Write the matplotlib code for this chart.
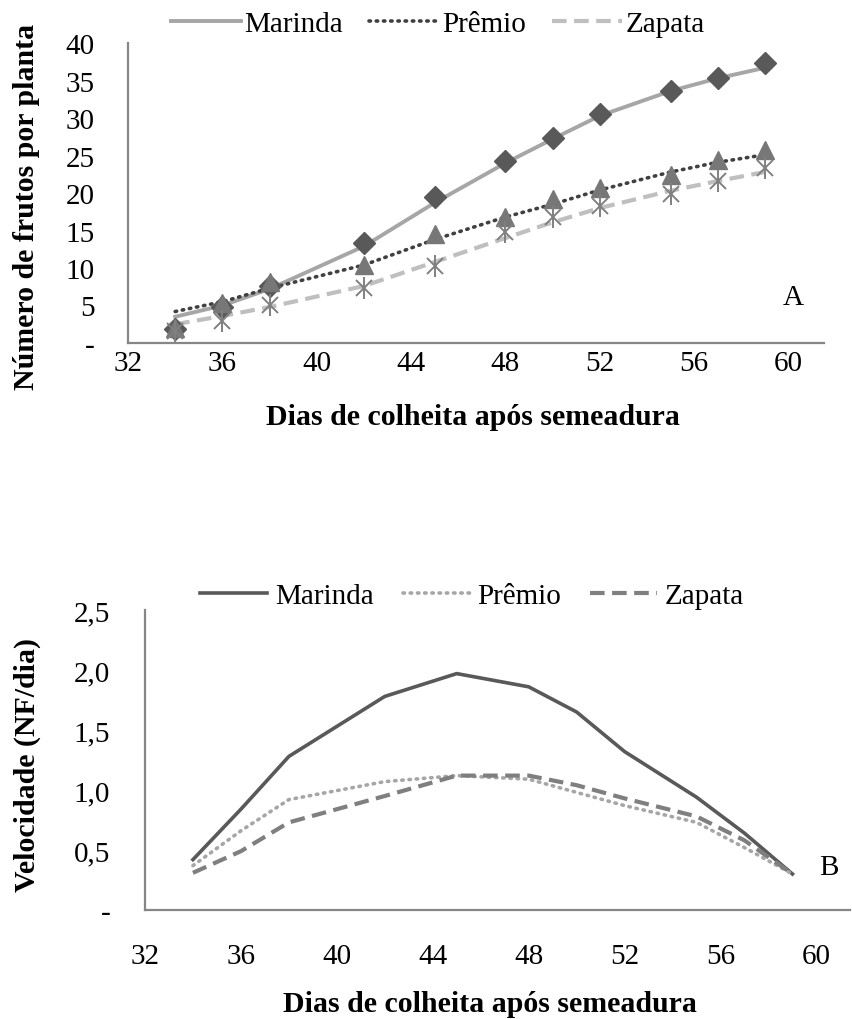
import matplotlib
matplotlib.use("Agg")
import matplotlib.pyplot as plt
from matplotlib.ticker import FuncFormatter

plt.rcParams['font.family'] = ['Liberation Serif', 'DejaVu Serif']

# ---- data ----
dias = [34, 36, 38, 42, 45, 48, 50, 52, 55, 57, 59]
series = ['Marinda', 'Prêmio', 'Zapata']

# Chart A: fitted curves
marinda_fit = [3.5, 5.0, 7.2, 12.9, 18.7, 24.0, 27.2, 30.3, 33.6, 35.3, 36.7]
premio_fit = [4.2, 5.5, 7.3, 10.4, 13.8, 16.8, 18.5, 20.4, 22.8, 24.1, 25.1]
zapata_fit = [2.5, 3.6, 4.8, 7.6, 10.8, 14.0, 16.1, 18.0, 20.3, 21.6, 22.8]
# Chart A: observed points
marinda_obs = [1.9, 4.8, 7.6, 13.3, 19.5, 24.3, 27.4, 30.6, 33.6, 35.4, 37.3]
premio_obs = [2.0, 5.3, 8.2, 10.4, 14.6, 16.8, 19.2, 20.7, 22.4, 24.4, 25.8]
zapata_obs = [1.6, 3.0, 5.1, 7.4, 10.3, 14.8, 16.8, 18.3, 19.9, 21.6, 23.4]

# Chart B: velocity (NF/dia)
marinda_vel = [0.42, 0.84, 1.28, 1.78, 1.97, 1.86, 1.65, 1.32, 0.94, 0.64, 0.30]
premio_vel = [0.37, 0.66, 0.92, 1.07, 1.12, 1.09, 0.98, 0.87, 0.73, 0.52, 0.30]
zapata_vel = [0.31, 0.49, 0.73, 0.95, 1.12, 1.12, 1.04, 0.93, 0.78, 0.58, 0.30]

x_ticks = [32, 36, 40, 44, 48, 52, 56, 60]
yA_ticks = [0, 5, 10, 15, 20, 25, 30, 35, 40]
yB_ticks = [0, 0.5, 1.0, 1.5, 2.0, 2.5]

W, H = 853, 1020
fig = plt.figure(figsize=(W / 100, H / 100), dpi=100)

spine_c = '#868686'
tick_fs = 21
leg_fs = 21
lab_fs = 21.5


def style_axes(ax, ypad, xpad):
    for s in ['top', 'right']:
        ax.spines[s].set_visible(False)
    for s in ['left', 'bottom']:
        ax.spines[s].set_color(spine_c)
        ax.spines[s].set_linewidth(1.6)
    ax.tick_params(axis='both', length=0, labelsize=tick_fs, colors='black')
    ax.tick_params(axis='y', pad=ypad)
    ax.tick_params(axis='x', pad=xpad)


def fpos(x, y):
    return (x / W, 1 - y / H)


# ---- Chart A ----
axA = fig.add_axes([128 / W, 1 - 344 / H, 696 / W, 300 / H])
lm, = axA.plot(dias, marinda_fit, color='#A6A6A6', lw=2.8, ls='-', label=series[0])
lp, = axA.plot(dias, premio_fit, color='#404040', lw=2.6, ls=(0, (0.4, 1.6)),
               dash_capstyle='round', label=series[1])
lz, = axA.plot(dias, zapata_fit, color='#BFBFBF', lw=3.0, ls=(0, (3.5, 1.8)), label=series[2])
axA.plot(dias, marinda_obs, ls='none', marker='D', ms=11.5, color='#595959', mec='#595959')
axA.plot(dias, premio_obs, ls='none', marker='^', ms=13, color='#777777', mec='#777777')
axA.plot(dias, zapata_obs, ls='none', marker='x', ms=12, mew=1.4, color='#808080')
axA.plot(dias, zapata_obs, ls='none', marker='|', ms=16, mew=1.4, color='#808080')
axA.set_xlim(32, 61.5)
axA.set_ylim(0, 40)
axA.set_xticks(x_ticks)
axA.set_yticks(yA_ticks)
axA.yaxis.set_major_formatter(FuncFormatter(lambda v, p: '-' if v == 0 else f'{v:.0f}'))
style_axes(axA, ypad=24, xpad=5)
fig.text(*fpos(793, 298), 'A', fontsize=21, ha='center', va='center')
fig.legend(handles=[lm, lp, lz], loc='center', bbox_to_anchor=fpos(438, 25),
           ncol=3, frameon=False, fontsize=leg_fs, handlelength=2.4,
           handletextpad=0.1, columnspacing=0.9, borderpad=0, borderaxespad=0)
fig.text(*fpos(27, 207), 'Número de frutos por planta', rotation=90,
         fontsize=lab_fs, fontweight='bold', ha='center', va='center')
fig.text(*fpos(473, 418), 'Dias de colheita após semeadura',
         fontsize=lab_fs, fontweight='bold', ha='center', va='center')

# ---- Chart B ----
axB = fig.add_axes([145 / W, 1 - 911 / H, 705 / W, 300 / H])
bm, = axB.plot(dias, marinda_vel, color='#595959', lw=2.6, ls='-', label=series[0])
bp, = axB.plot(dias, premio_vel, color='#A6A6A6', lw=2.6, ls=(0, (0.4, 1.6)),
               dash_capstyle='round', label=series[1])
bz, = axB.plot(dias, zapata_vel, color='#7F7F7F', lw=3.0, ls=(0, (3.5, 1.8)), label=series[2])
axB.set_xlim(32, 61.4)
axB.set_ylim(0, 2.5)
axB.set_xticks(x_ticks)
axB.set_yticks(yB_ticks)
axB.yaxis.set_major_formatter(FuncFormatter(
    lambda v, p: '-' if v == 0 else f'{v:.1f}'.replace('.', ',')))
style_axes(axB, ypad=25, xpad=24)
fig.text(*fpos(829, 868), 'B', fontsize=21, ha='center', va='center')
fig.legend(handles=[bm, bp, bz], loc='center', bbox_to_anchor=fpos(472, 597),
           ncol=3, frameon=False, fontsize=leg_fs, handlelength=2.3,
           handletextpad=0.25, columnspacing=1.0, borderpad=0, borderaxespad=0)
fig.text(*fpos(27, 765), 'Velocidade (NF/dia)', rotation=90,
         fontsize=lab_fs, fontweight='bold', ha='center', va='center')
fig.text(*fpos(490, 1005), 'Dias de colheita após semeadura',
         fontsize=lab_fs, fontweight='bold', ha='center', va='center')

fig.savefig('out.png', dpi=100)
